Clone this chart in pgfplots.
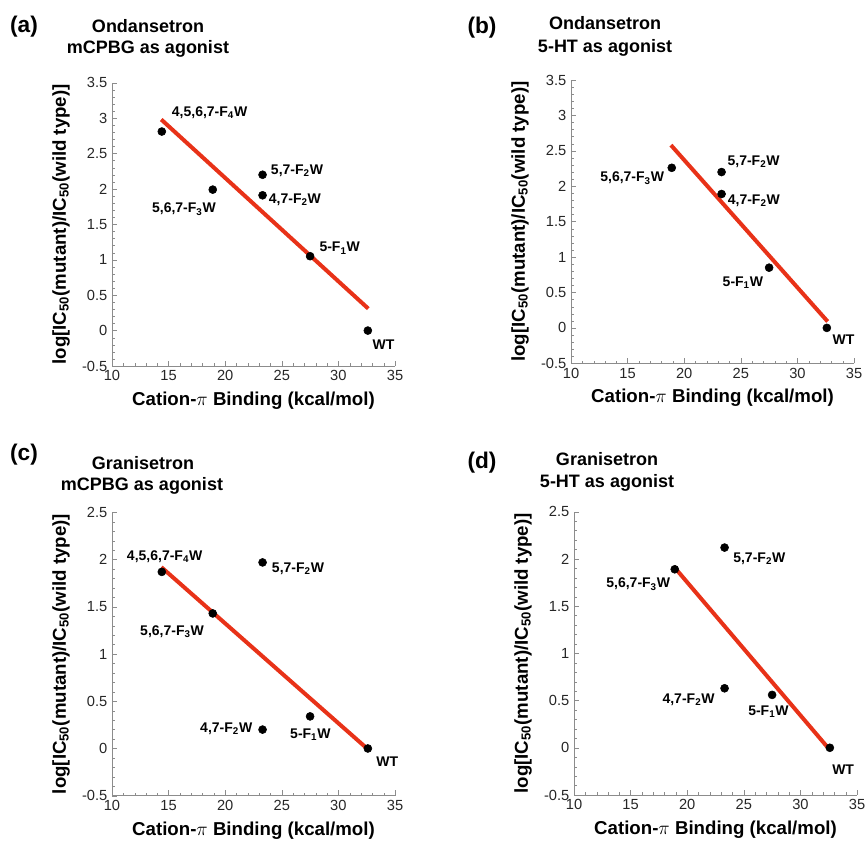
\documentclass[border=0pt]{standalone}
\usepackage{fontspec}
\setmainfont{Liberation Sans}
\usepackage{pgfplots}
\pgfplotsset{compat=1.18}

\definecolor{fitred}{RGB}{232,50,24}
\definecolor{axgray}{RGB}{140,140,140}

\pgfplotsset{
  panel/.style={
    scale only axis, width=212.25pt, height=212.5pt,
    anchor=south west,
    axis x line=bottom, axis y line=left,
    axis line style={axgray, -},
    tick align=inside,
    major tick length=4pt, minor tick length=2pt,
    tick style={axgray},
    xmin=10, xmax=35, xtick={10,15,...,35}, minor x tick num=4,
    ytick distance=0.5, minor y tick num=4,
    tick label style={font=\fontsize{11}{13}\selectfont, text=black!85},
    /pgf/number format/assume math mode=true,
    yticklabel style={/pgf/number format/fixed, /pgf/number format/precision=1},
    xlabel={\textbf{Cation-$\pi$ Binding (kcal/mol)}},
    ylabel={\textbf{log[IC\textsubscript{50}(mutant)/IC\textsubscript{50}(wild type)]}},
    label style={font=\fontsize{14}{16}\selectfont},
    xlabel style={at={(axis description cs:0.5,-0.123)}, anchor=center},
    ylabel style={at={(axis description cs:-0.18,0.5)}, anchor=center},
    clip=false,
  },
  fit/.style={fitred, line width=3pt},
  dots/.style={only marks, mark=*, mark size=3pt, black},
}
\tikzset{
  pt/.style={font=\bfseries\fontsize{10.5}{12}\selectfont, anchor=base west, inner sep=0pt},
  ttl/.style={font=\bfseries\fontsize{13.5}{16}\selectfont, anchor=base},
  tag/.style={font=\bfseries\fontsize{17}{20}\selectfont, anchor=base},
}

\begin{document}
\begin{tikzpicture}[x=0.75pt, y=0.75pt]
\path[use as bounding box] (0,0) rectangle (866,840);
\coordinate (PA) at (112,474);
\coordinate (PB) at (571,476.7);
\coordinate (PC) at (112,44.3);
\coordinate (PD) at (574,45);

% titles
\node[tag] at (24,807) {(a)};
\node[ttl] at (148,807) {Ondansetron};
\node[ttl] at (148,786) {mCPBG as agonist};
\node[tag] at (482,806) {(b)};
\node[ttl] at (605,810.5) {Ondansetron};
\node[ttl] at (605,787.5) {5-HT as agonist};
\node[tag] at (24,380) {(c)};
\node[ttl] at (143,371) {Granisetron};
\node[ttl] at (142,349.5) {mCPBG as agonist};
\node[tag] at (482,372) {(d)};
\node[ttl] at (607,374.5) {Granisetron};
\node[ttl] at (607,352.5) {5-HT as agonist};

% (a) Ondansetron, mCPBG
\begin{axis}[panel, at={(PA)}, ymin=-0.5, ymax=3.5]
\addplot[fit] coordinates {(14.35,2.98)(32.64,0.31)};
\addplot[dots] coordinates {(14.4,2.81)(18.9,1.99)(23.3,2.20)(23.3,1.91)(27.5,1.05)(32.6,0.0)};
\node[pt] at (axis cs:15.27,3.02) {4,5,6,7-F\textsubscript{4}W};
\node[pt] at (axis cs:24.02,2.21) {5,7-F\textsubscript{2}W};
\node[pt] at (axis cs:23.84,1.80) {4,7-F\textsubscript{2}W};
\node[pt, anchor=base east] at (axis cs:19.19,1.66) {5,6,7-F\textsubscript{3}W};
\node[pt] at (axis cs:28.31,1.11) {5-F\textsubscript{1}W};
\node[pt] at (axis cs:33.0,-0.26) {WT};
\end{axis}

% (b) Ondansetron, 5-HT
\begin{axis}[panel, at={(PB)}, ymin=-0.5, ymax=3.5]
\addplot[fit] coordinates {(18.83,2.58)(32.67,0.09)};
\addplot[dots] coordinates {(18.9,2.26)(23.3,2.20)(23.3,1.89)(27.5,0.85)(32.6,0.0)};
\node[pt, anchor=base east] at (axis cs:18.24,2.06) {5,6,7-F\textsubscript{3}W};
\node[pt] at (axis cs:23.81,2.29) {5,7-F\textsubscript{2}W};
\node[pt] at (axis cs:23.83,1.74) {4,7-F\textsubscript{2}W};
\node[pt, anchor=base east] at (axis cs:26.99,0.59) {5-F\textsubscript{1}W};
\node[pt] at (axis cs:33.08,-0.23) {WT};
\end{axis}

% (c) Granisetron, mCPBG
\begin{axis}[panel, at={(PC)}, ymin=-0.5, ymax=2.5]
\addplot[fit] coordinates {(14.36,1.92)(32.53,0.0)};
\addplot[dots] coordinates {(14.4,1.87)(18.9,1.43)(23.3,1.97)(23.3,0.20)(27.5,0.34)(32.6,0.0)};
\node[pt] at (axis cs:11.30,1.995) {4,5,6,7-F\textsubscript{4}W};
\node[pt] at (axis cs:24.11,1.864) {5,7-F\textsubscript{2}W};
\node[pt] at (axis cs:12.47,1.20) {5,6,7-F\textsubscript{3}W};
\node[pt] at (axis cs:17.77,0.169) {4,7-F\textsubscript{2}W};
\node[pt] at (axis cs:25.72,0.106) {5-F\textsubscript{1}W};
\node[pt] at (axis cs:33.33,-0.195) {WT};
\end{axis}

% (d) Granisetron, 5-HT
\begin{axis}[panel, at={(PD)}, ymin=-0.5, ymax=2.5]
\addplot[fit] coordinates {(18.81,1.92)(32.44,0.0)};
\addplot[dots] coordinates {(18.9,1.89)(23.3,2.12)(23.3,0.63)(27.5,0.56)(32.6,0.0)};
\node[pt] at (axis cs:24.05,1.965) {5,7-F\textsubscript{2}W};
\node[pt, anchor=base east] at (axis cs:18.51,1.693) {5,6,7-F\textsubscript{3}W};
\node[pt] at (axis cs:17.80,0.472) {4,7-F\textsubscript{2}W};
\node[pt] at (axis cs:25.37,0.341) {5-F\textsubscript{1}W};
\node[pt] at (axis cs:32.79,-0.278) {WT};
\end{axis}
\end{tikzpicture}
\end{document}
